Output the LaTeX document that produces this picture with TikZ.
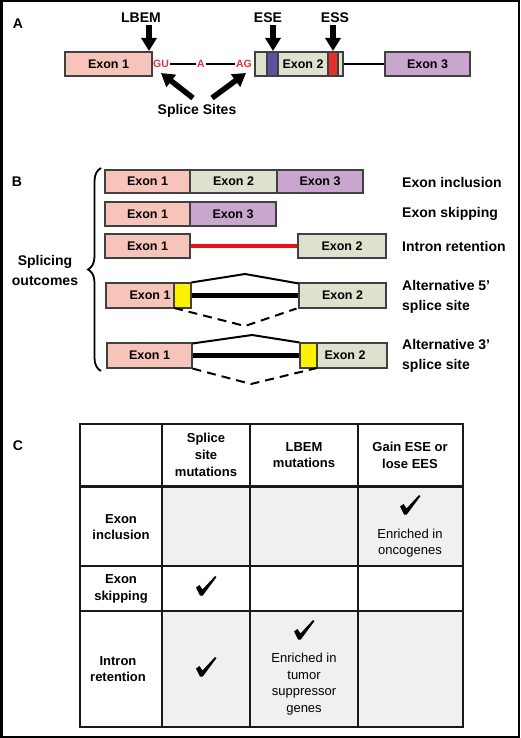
\documentclass[tikz,border=0pt]{standalone}
\usepackage{fontspec}
\setmainfont{Liberation Sans}
\usetikzlibrary{arrows.meta,decorations.pathreplacing}
\definecolor{exA}{RGB}{246,196,184}
\definecolor{exB}{RGB}{222,225,205}
\definecolor{exC}{RGB}{201,166,206}
\definecolor{bandblue}{RGB}{92,82,160}
\definecolor{bandred}{RGB}{228,48,44}
\definecolor{sitered}{RGB}{220,52,60}
\definecolor{intronred}{RGB}{232,20,20}
\definecolor{cellgray}{RGB}{240,240,240}
\begin{document}
\begin{tikzpicture}[x=1pt,y=-1pt,
  exon/.style={draw=black!75, line width=1.1pt, inner sep=0pt, minimum height=24pt,
    font=\fontsize{12.5}{15}\selectfont\bfseries},
  extext/.style={inner sep=0pt, font=\fontsize{12.5}{15}\selectfont\bfseries},
  site/.style={inner sep=1pt, text=sitered, font=\fontsize{10.5}{12}\selectfont\bfseries},
  biglab/.style={inner sep=0pt, font=\fontsize{14}{20}\selectfont\bfseries},
  outlab/.style={inner sep=0pt, anchor=west, align=left, font=\fontsize{14}{20}\selectfont\bfseries},
  panel/.style={inner sep=0pt, font=\fontsize{14}{16}\selectfont\bfseries},
  blk/.style={line width=5.5pt, -{Triangle[width=15pt,length=13pt]}},
  hdr/.style={inner sep=0pt, align=center, font=\fontsize{13}{16.7}\selectfont\bfseries},
  note/.style={inner sep=0pt, align=center, font=\fontsize{13}{16.7}\selectfont},
  grid/.style={line width=2.2pt, draw=black!90},
  chk/.pic={\fill[black] (-10,1.5) -- (-6.5,-1) -- (-3.5,3.5) -- (9,-10) -- (10.5,-9)
     -- (-3.2,9.5) -- (-6,9.5) -- cycle;}
]
\useasboundingbox (0,0) rectangle (520,738);
\draw[line width=2.5pt] (1.25,1.25) rectangle (518.75,736.75);

% ---------------- Panel A
\node[panel] (pA) at (18,24) {A};
\node[exon, fill=exA, minimum width=87pt] (a1) at (108.5,64) {Exon 1};
\node[site] (gu) at (161,64) {GU};
\node[site] (aa) at (201,64) {A};
\node[site] (ag) at (244,64) {AG};
\draw[line width=1.6pt] (gu) -- (aa);
\draw[line width=1.6pt] (aa) -- (ag);
\node[exon, fill=exB, minimum width=88pt] (a2) at (299,64) {};
\node[extext] (a2t) at (303,64) {Exon 2};
\filldraw[fill=bandblue, draw=black!75, line width=1.1pt] (267,52) rectangle (278,76);
\filldraw[fill=bandred, draw=black!75, line width=1.1pt] (328,52) rectangle (338,76);
\node[exon, fill=exC, minimum width=85pt] (a3) at (427.5,64) {Exon 3};
\draw[line width=1.6pt] (a2.east) -- (a3.west);

\node[biglab] (lbem) at (141,18) {LBEM};
\node[biglab] (ese) at (268,18) {ESE};
\node[biglab] (ess) at (335,18) {ESS};
\coordinate (lbemT) at (149,51);
\coordinate (eseT) at (273,51);
\coordinate (essT) at (333,51);
\draw[blk] (149,25) -- (lbemT);
\draw[blk] (273,25) -- (eseT);
\draw[blk] (333,25) -- (essT);

\node[biglab] (ss) at (197,111) {Splice Sites};
\coordinate (ssL) at (193,98);
\coordinate (ssR) at (212,98);
\coordinate (guT) at (161,73);
\coordinate (agT) at (246,73);
\draw[blk] (ssL) -- (guT);
\draw[blk] (ssR) -- (agT);

% ---------------- Panel B
\node[panel] (pB) at (17,182) {B};
\node[exon, fill=exA, minimum width=85pt, minimum height=23pt] (b11) at (147.5,181.5) {Exon 1};
\node[exon, fill=exB, minimum width=87pt, minimum height=23pt] (b12) at (233.5,181.5) {Exon 2};
\node[exon, fill=exC, minimum width=86pt, minimum height=23pt] (b13) at (320,181.5) {Exon 3};
\node[outlab] (l1) at (402,182) {Exon inclusion};

\node[exon, fill=exA, minimum width=85pt] (b21) at (147.5,214) {Exon 1};
\node[exon, fill=exC, minimum width=86pt] (b23) at (233,214) {Exon 3};
\node[outlab] (l2) at (402,214) {Exon skipping};

\node[exon, fill=exA, minimum width=85pt] (b31) at (147.5,246) {Exon 1};
\node[exon, fill=exB, minimum width=88pt] (b32) at (342,246) {Exon 2};
\draw[line width=4.5pt, intronred] (b31.east) -- (b32.west);
\node[outlab] (l3) at (402,246) {Intron retention};

% alt 5'
\node[exon, fill=exA, minimum width=85pt, minimum height=25pt] (b41) at (148.5,295.5) {};
\fill[yellow] (174,283) rectangle (191,308);
\draw[black!75, line width=1.1pt] (174,283) -- (174,308);
\node[exon, minimum width=85pt, minimum height=25pt] (b41f) at (148.5,295.5) {};
\node[extext] (b41t) at (150,295.5) {Exon 1};
\node[exon, fill=exB, minimum width=87pt, minimum height=25pt] (b42) at (342.5,295.5) {Exon 2};
\draw[line width=4.5pt] (b41.east) -- (b42.west);
\coordinate (p5a) at (245,274);
\coordinate (p5b) at (245,326);
\draw[line width=2pt] (b41.north east) -- (p5a) -- ([yshift=-1pt]b42.north west);
\draw[line width=2pt, dash pattern=on 9pt off 6pt] (174,308) -- (p5b) -- ([xshift=-2pt]b42.south west);
\node[outlab] (l4) at (402,297) {Alternative 5’\\splice site};

% alt 3'
\node[exon, fill=exA, minimum width=85pt, minimum height=25pt] (b51) at (149.5,355.5) {Exon 1};
\node[exon, fill=exB, minimum width=87pt, minimum height=25pt] (b52) at (343.5,355.5) {};
\fill[yellow] (300,343) rectangle (317,368);
\draw[black!75, line width=1.1pt] (317,343) -- (317,368);
\node[exon, minimum width=87pt, minimum height=25pt] (b52f) at (343.5,355.5) {};
\node[extext] (b52t) at (345,355.5) {Exon 2};
\draw[line width=4.5pt] (b51.east) -- (b52.west);
\coordinate (p3a) at (252,335);
\coordinate (p3b) at (251,384);
\draw[line width=2pt] ([yshift=-1pt]b51.north east) -- (p3a) -- (b52.north west);
\draw[line width=2pt, dash pattern=on 9pt off 6pt] (b51.south east) -- (p3b) -- (317,368);
\node[outlab] (l5) at (402,356) {Alternative 3’\\splice site};

% brace
\coordinate (brB) at (101,371);
\coordinate (brT) at (101,168);
\draw[line width=1.8pt, decorate, decoration={brace, amplitude=13pt, aspect=0.5}] (brB) -- (brT);
\node[biglab, align=center] (so) at (45,270) {Splicing\\outcomes};

% ---------------- Panel C
\node[panel] (pC) at (18,446) {C};
\fill[cellgray] (162,486) rectangle (463,566);
\fill[cellgray] (162,611) rectangle (463,727);
\draw[grid] (80,424) rectangle (463,727);
\draw[grid] (162,424) -- (162,727);
\draw[grid] (250,424) -- (250,727);
\draw[grid] (358,424) -- (358,727);
\draw[grid, line width=3pt] (80,486) -- (463,486);
\draw[grid] (80,566) -- (463,566);
\draw[grid] (80,611) -- (463,611);

\node[hdr] (h1) at (206,455) {Splice\\site\\mutations};
\node[hdr] (h2) at (304,455) {LBEM\\mutations};
\node[hdr] (h3) at (410,455) {Gain ESE or\\lose EES};
\node[hdr] (r1) at (121,527) {Exon\\inclusion};
\node[hdr] (r2) at (121,589) {Exon\\skipping};
\node[hdr] (r3) at (118,669) {Intron\\retention};

\pic (c1) at (410,505) {chk};
\node[note] (n1) at (410,543) {Enriched in\\oncogenes};
\pic (c2) at (206,586) {chk};
\pic (c3) at (206,667) {chk};
\pic (c4) at (304,630) {chk};
\node[note] (n2) at (304,684) {Enriched in\\tumor\\suppressor\\genes};
\end{tikzpicture}
\end{document}
